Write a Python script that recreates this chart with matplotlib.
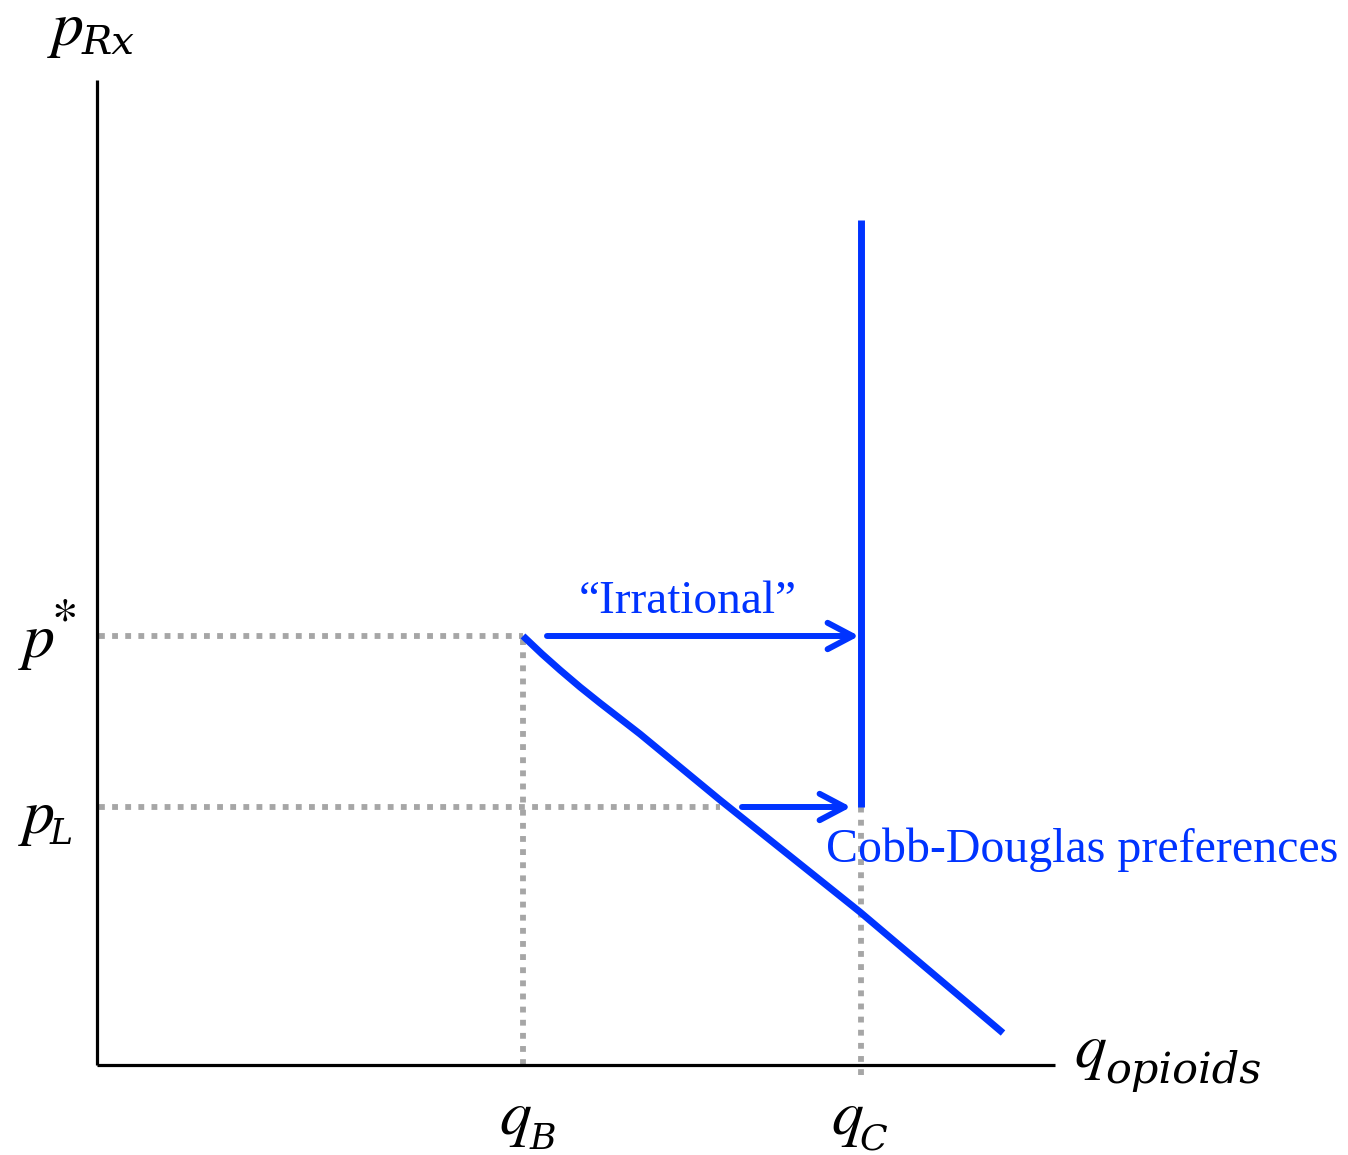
import matplotlib
matplotlib.use("Agg")
import matplotlib.pyplot as plt

plt.rcParams['mathtext.fontset'] = 'stix'

# ---- data (arbitrary economic units) ----
q_B = 4.26
q_C = 7.64
p_star = 4.29
p_L = 2.58
p_top = 8.45
x_axis_end = 9.58
y_axis_top = 9.85

# demand curve points (q, p)
demand_q = [4.26, 4.45, 4.63, 4.83, 5.03, 5.43, 6.23, 7.63, 9.06]
demand_p = [4.29, 4.11, 3.95, 3.78, 3.62, 3.31, 2.65, 1.53, 0.32]

# arrows: (q_start, q_end, p)
arrow_irr = (4.50, 7.62, 4.29)
arrow_low = (6.45, 7.54, 2.58)
pL_dot_end = 6.23

BLUE = '#0033FF'
GRAY = '#A6A6A6'

fig = plt.figure(figsize=(13.48, 11.55), dpi=100)
ax = fig.add_axes([0, 0, 1, 1])
ax.set_xlim(-0.97, 12.51)
ax.set_ylim(-0.90, 10.65)
ax.axis('off')

# dotted guide lines
dot_kw = dict(color=GRAY, lw=4.2, dashes=(1.0, 1.25), dash_capstyle='butt')
ax.plot([0.02, q_B], [p_star, p_star], **dot_kw)
ax.plot([0.02, pL_dot_end], [p_L, p_L], **dot_kw)
ax.plot([q_B, q_B], [0, p_star], **dot_kw)
ax.plot([q_C, q_C], [-0.10, p_L], **dot_kw)

# axes
ax.plot([0, 0], [0, y_axis_top], color='black', lw=2.3, solid_capstyle='butt')
ax.plot([0, x_axis_end], [0, 0], color='black', lw=2.3, solid_capstyle='butt')

# demand curve
ax.plot(demand_q, demand_p, color=BLUE, lw=5.0, solid_capstyle='butt',
        solid_joinstyle='round')
# vertical (perfect complements)
ax.plot([q_C, q_C], [p_L, p_top], color=BLUE, lw=5.0, solid_capstyle='butt')

# arrows
for (x0, x1, y) in [arrow_irr, arrow_low]:
    ax.annotate('', xy=(x1, y), xytext=(x0, y),
                arrowprops=dict(arrowstyle='->,head_length=1.8,head_width=0.95',
                                color=BLUE, lw=4.3, shrinkA=0, shrinkB=0,
                                capstyle='round', joinstyle='round'))

# math labels: main letter + subscript
MAIN = 46
def label(x, y, main, xs=None, ys=None, sub=None, subsize=26):
    ax.text(x, y, main, fontsize=MAIN, ha='left', va='baseline', math_fontfamily='stix')
    if sub is not None:
        ax.text(xs, ys, sub, fontsize=subsize, ha='left', va='baseline',
                family='DejaVu Serif', style='italic')

label(-0.50, 10.20, r'$p$', -0.15, 10.11, 'Rx', 29)
ax.text(-0.79, 4.08, r'$p$', fontsize=MAIN, ha='left', va='baseline', math_fontfamily='stix')
ax.text(-0.46, 4.30, r'$*$', fontsize=38, ha='left', va='baseline', math_fontfamily='stix')
label(-0.79, 2.32, r'$p$', -0.47, 2.21, 'L', 25)
label(4.02, -0.69, r'$q$', 4.33, -0.84, 'B')
label(7.34, -0.69, r'$q$', 7.63, -0.84, 'C')
label(9.77, -0.02, r'$q$', 10.08, -0.18, 'opioids', 31)

ax.text(5.91, 4.52, '\u201cIrrational\u201d', fontsize=34, color=BLUE,
        family='Liberation Serif', ha='center', va='baseline')
ax.text(7.29, 2.03, 'Cobb-Douglas preferences', fontsize=34.5, color=BLUE,
        family='Liberation Serif', ha='left', va='baseline')

fig.savefig('out.png', dpi=100)
